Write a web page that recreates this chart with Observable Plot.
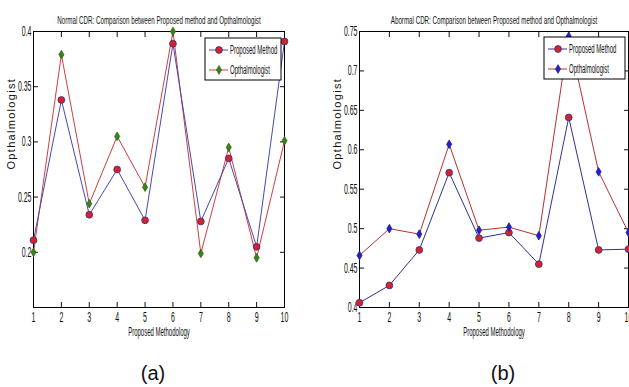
<!DOCTYPE html>
<html><head><meta charset="utf-8">
<script src="https://cdn.jsdelivr.net/npm/d3@7"></script>
<script src="https://cdn.jsdelivr.net/npm/@observablehq/plot@0.6"></script>
<style>
body{margin:0;background:#fff;width:629px;height:387px;overflow:hidden;position:relative;font-family:"Liberation Sans",Arial,sans-serif}
.panel{position:absolute;top:0}
.cap{position:absolute;top:361px;font-size:20px;width:60px;text-align:center;line-height:24px;color:#111}
</style></head><body>
<div id="a" class="panel" style="left:0"></div>
<div id="b" class="panel" style="left:310px"></div>
<div class="cap" style="left:123px">(a)</div>
<div class="cap" style="left:473px">(b)</div>
<script>
const xs = [1, 2, 3, 4, 5, 6, 7, 8, 9, 10];
const normalProposed   = [0.211, 0.338, 0.234, 0.275, 0.229, 0.389, 0.228, 0.285, 0.205, 0.391];
const normalOphth      = [0.200, 0.379, 0.244, 0.305, 0.259, 0.400, 0.199, 0.295, 0.195, 0.301];
const abnormalProposed = [0.406, 0.428, 0.473, 0.571, 0.488, 0.495, 0.455, 0.641, 0.473, 0.474];
const abnormalOphth    = [0.466, 0.500, 0.493, 0.607, 0.498, 0.502, 0.491, 0.744, 0.572, 0.495];
const normalYTicks   = [0.2, 0.25, 0.3, 0.35, 0.4];
const abnormalYTicks = [0.4, 0.45, 0.5, 0.55, 0.6, 0.65, 0.7, 0.75];
const seriesNames = ["Proposed Method", "Opthalmologist"];
const titles = ["Normal CDR: Comparison between Proposed method and Opthalmologist",
                "Abormal CDR: Comparison between Proposed method and Opthalmologist"];
const xLabel = "Proposed Methodology";
const yLabel = "Opthalmologist";

const narrowDiamond = {
  draw(ctx, size) {
    const r = Math.sqrt(size / Math.PI);
    const w = r * 0.7, h = r * 1.2;
    ctx.moveTo(0, -h); ctx.lineTo(w, 0); ctx.lineTo(0, h); ctx.lineTo(-w, 0); ctx.closePath();
  }
};

const FONT = "Liberation Sans, Arial, sans-serif";

function panel({el, width, marginLeft, marginRight, title, proposed, ophth, yDomain, yTicks,
                ophthFill, ophthStroke, lineRed, lineBlue, legendW, legendTop}) {
  const rows = xs.map((x, i) => ({x, p: proposed[i], o: ophth[i]}));
  const fmt = d3.format("~g");
  const plot = Plot.plot({
    width, height: 345, marginLeft, marginRight, marginTop: 31, marginBottom: 38,
    x: {domain: [1, 10]},
    y: {domain: yDomain},
    style: {fontFamily: FONT, fontSize: "14px", color: "#111", background: "#fff", overflow: "visible"},
    marks: [
      Plot.axisX(xs, {anchor: "bottom", tickSize: -5, tickPadding: 10, label: null, tickFormat: d => String(d), fontSize: 14}),
      Plot.axisX(xs, {anchor: "top", tickSize: -5, tickFormat: () => "", label: null}),
      Plot.axisY(yTicks, {anchor: "left", tickSize: -5, tickPadding: 7, label: null, tickFormat: fmt, fontSize: 14}),
      Plot.axisY(yTicks, {anchor: "right", tickSize: -5, tickFormat: () => "", label: null}),
      Plot.line(rows, {x: "x", y: "o", stroke: lineRed, strokeWidth: 1}),
      Plot.line(rows, {x: "x", y: "p", stroke: lineBlue, strokeWidth: 1}),
      Plot.frame({stroke: "#000", strokeWidth: 1}),
      Plot.dot(rows, {x: "x", y: "p", r: 3.4, fill: "#d42424", stroke: "#3a2a90", strokeWidth: 0.8}),
      Plot.dot(rows, {x: "x", y: "o", r: 3.6, symbol: narrowDiamond, fill: ophthFill, stroke: ophthStroke, strokeWidth: 0.8}),
      Plot.text([title], {frameAnchor: "top", dy: -16, fontSize: 11.5, fill: "#111"}),
      Plot.text([xLabel], {frameAnchor: "bottom", dy: 28, fontSize: 12, fill: "#111"}),
      Plot.text([yLabel], {frameAnchor: "left", dx: -22, rotate: -90, fontSize: 11, fill: "#111"})
    ]
  });
  document.getElementById(el).appendChild(plot);
  const svg = d3.select(plot);

  // legend
  const frameRight = width - marginRight;
  const bx = frameRight - 3 - legendW, by = legendTop, bh = 42;
  const g = svg.append("g").attr("aria-label", "legend");
  g.append("rect").attr("x", bx).attr("y", by).attr("width", legendW).attr("height", bh)
    .attr("fill", "#fff").attr("stroke", "#000").attr("stroke-width", 1);
  const entries = [
    {name: seriesNames[0], line: lineBlue, sym: d3.symbolCircle, size: 3.4 * 3.4 * Math.PI, fill: "#d42424", stroke: "#3a2a90"},
    {name: seriesNames[1], line: lineRed, sym: narrowDiamond, size: 3.6 * 3.6 * Math.PI, fill: ophthFill, stroke: ophthStroke}
  ];
  entries.forEach((e, i) => {
    const cy = by + 12 + i * 20;
    g.append("line").attr("x1", bx + 4).attr("x2", bx + 23).attr("y1", cy).attr("y2", cy)
      .attr("stroke", e.line).attr("stroke-width", 1);
    g.append("path").attr("d", d3.symbol().type(e.sym).size(e.size)())
      .attr("transform", `translate(${bx + 14},${cy})`).attr("fill", e.fill).attr("stroke", e.stroke).attr("stroke-width", 0.8);
    g.append("text").attr("class", "legtext").attr("x", bx + 25).attr("y", cy).attr("dy", "0.35em")
      .attr("text-anchor", "start")
      .attr("font-size", 12).attr("font-family", FONT).attr("fill", "#111").text(e.name);
  });

  // condense text like the original narrow rendering
  svg.selectAll("text").each(function () {
    const t = this.textContent;
    if (!t) return;
    let f;
    if (this.classList.contains("legtext")) f = 0.5;
    else if (t === yLabel) { this.style.letterSpacing = "1.3px"; return; }
    else if (t === title) f = 0.54;
    else if (t === xLabel) f = 0.5;
    else f = 0.5;
    const L = this.getComputedTextLength();
    if (L > 0) { this.setAttribute("textLength", L * f); this.setAttribute("lengthAdjust", "spacingAndGlyphs"); }
  });
}

panel({el: "a", width: 300, marginLeft: 33, marginRight: 16, title: titles[0],
  proposed: normalProposed, ophth: normalOphth, yDomain: [0.15, 0.4], yTicks: normalYTicks,
  ophthFill: "#2a8a1a", ophthStroke: "#4a5a10", lineRed: "#cc4040", lineBlue: "#4848b0", legendW: 76, legendTop: 38});
panel({el: "b", width: 319, marginLeft: 49, marginRight: 1, title: titles[1],
  proposed: abnormalProposed, ophth: abnormalOphth, yDomain: [0.4, 0.75], yTicks: abnormalYTicks,
  ophthFill: "#2020d0", ophthStroke: "#20208a", lineRed: "#b83030", lineBlue: "#303098", legendW: 81, legendTop: 37});
</script>
</body></html>
